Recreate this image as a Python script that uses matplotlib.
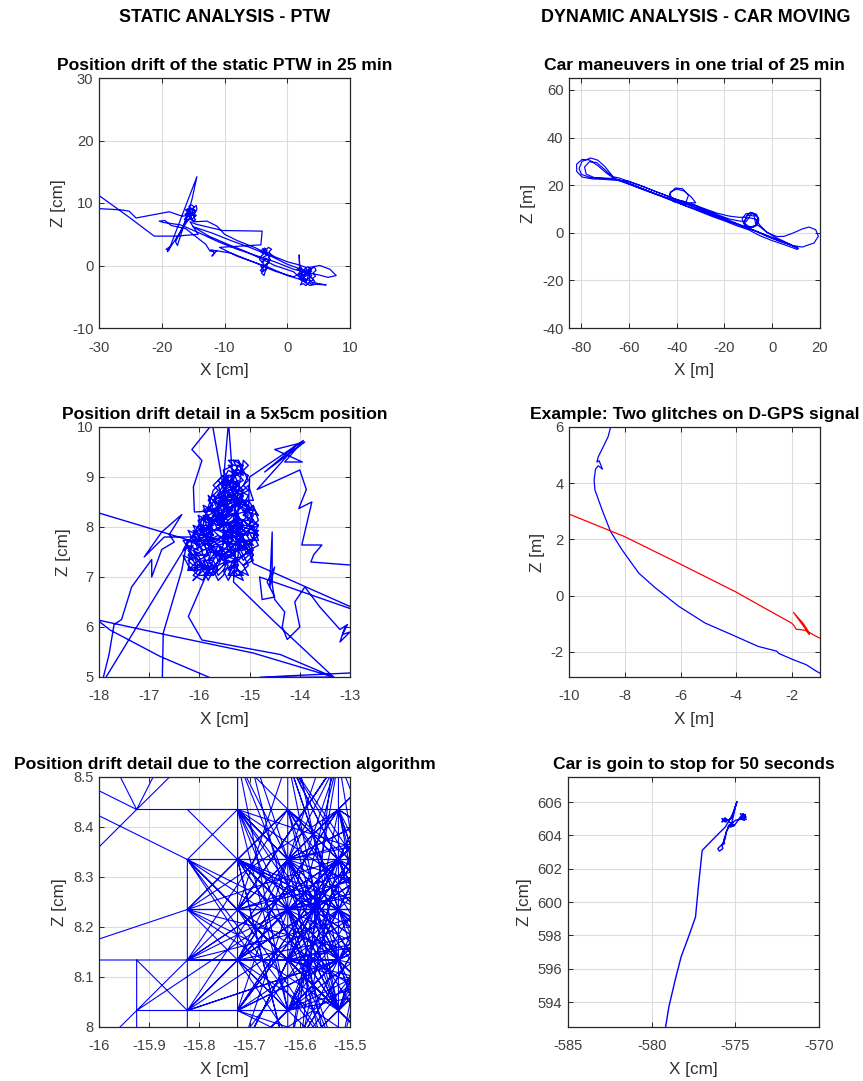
import matplotlib
matplotlib.use("Agg")
import matplotlib.pyplot as plt
from matplotlib.ticker import FuncFormatter

plt.rcParams['font.family'] = ['Liberation Sans', 'DejaVu Sans']
plt.rcParams['axes.unicode_minus'] = False

# ---------------- static PTW: full 25 min drift (cm) ----------------
ptw_cluster_a = [(-15.5, 8.0), (-15.1, 8.4), (-15.6, 8.7), (-15.2, 9.1), (-15.7, 9.4), (-15.3, 9.7),
                 (-14.8, 9.4), (-15.1, 9.0), (-14.6, 8.8), (-14.9, 8.3), (-14.5, 8.0), (-14.9, 7.7),
                 (-14.6, 7.3), (-15.1, 7.1), (-15.4, 7.5), (-15.9, 7.2), (-16.2, 7.6), (-15.8, 7.9),
                 (-16.3, 8.2), (-15.9, 8.5), (-16.2, 8.9), (-15.8, 9.1), (-15.4, 8.8), (-15.7, 8.3),
                 (-15.3, 8.1), (-15.6, 7.7), (-15.2, 7.4), (-14.8, 7.8), (-15.2, 8.2), (-14.7, 8.6),
                 (-15.0, 9.2), (-14.5, 9.6), (-14.4, 9.0), (-14.7, 8.4), (-15.3, 8.5), (-15.6, 8.2),
                 (-16.0, 7.8), (-16.4, 7.4), (-16.0, 7.1), (-15.6, 7.4), (-15.3, 7.8), (-15.8, 8.1),
                 (-15.5, 8.5), (-15.9, 8.8), (-15.5, 9.2), (-15.0, 8.7), (-15.4, 8.3)]
ptw_cluster_b = [(-3.6, 2.8), (-3.2, 2.4), (-3.7, 2.0), (-3.3, 1.6), (-3.9, 1.3), (-3.5, 0.9), (-4.1, 0.6),
                 (-3.7, 0.2), (-4.2, -0.2), (-3.8, -0.6), (-4.1, -1.2), (-3.7, -1.6), (-3.5, -0.9),
                 (-3.2, -0.4), (-3.6, 0.0), (-3.1, 0.4), (-2.7, 0.9), (-3.0, 1.3), (-2.6, 1.7), (-2.9, 2.2),
                 (-2.5, 2.6), (-3.0, 2.9), (-3.4, 2.5), (-3.9, 2.7), (-4.2, 2.2), (-3.8, 1.8), (-4.3, 1.4),
                 (-4.4, 0.9), (-3.9, 0.5), (-3.4, 1.2), (-2.9, 0.6), (-3.3, 0.1), (-3.8, -0.3), (-4.3, -0.8),
                 (-3.9, -1.0), (-3.4, -0.5), (-2.8, 1.2), (-3.3, 2.0), (-3.7, 2.4)]
ptw_cluster_c = [(3.2, -1.0), (2.7, -0.6), (3.3, -0.2), (3.8, -0.6), (4.3, -0.2), (4.6, -0.8), (4.1, -1.2),
                 (4.5, -1.7), (4.0, -2.1), (4.4, -2.6), (3.9, -3.0), (3.4, -2.7), (3.0, -3.2), (2.5, -2.9),
                 (2.1, -3.1), (2.4, -2.5), (1.9, -2.1), (2.3, -1.7), (1.7, -1.4), (2.1, -0.9), (1.6, -0.6),
                 (2.2, -0.3), (2.7, -1.1), (3.1, -1.6), (2.6, -1.9), (3.0, -2.3), (3.5, -2.0), (3.9, -1.6),
                 (3.5, -1.2), (3.9, -0.9), (3.4, -0.6), (2.9, -1.3), (2.5, -1.5), (2.8, -2.5), (3.3, -2.3),
                 (3.7, -2.5), (4.2, -2.3), (3.8, -1.9), (3.3, -1.5), (2.9, -0.9), (2.4, -1.2), (2.0, -1.8),
                 (2.6, -2.2), (3.2, -2.9), (3.6, -3.2)]
ptw_lead_in = [(-33, 9.0), (-30, 9.1), (-26.5, 8.9), (-25.2, 8.7), (-24.1, 7.6), (-18.8, 8.6), (-16.8, 7.9)]
ptw_spike = [(-15.0, 8.5), (-19.1, 2.2), (-18.7, 3.0), (-19.3, 2.6), (-18.9, 2.4), (-14.4, 14.2),
             (-15.2, 10.5), (-17.5, 3.2), (-17.8, 3.8), (-15.8, 8.0), (-15.3, 8.4), (-14.7, 7.9),
             (-15.9, 8.3)]
ptw_arc_to_b = [(-14.8, 7.0), (-12.8, 7.1), (-11.2, 6.3), (-10.0, 5.0), (-8.0, 4.0), (-5.0, 2.8), (-3.8, 2.2)]
ptw_b_to_c = [(-2.0, 1.4), (0.0, 0.6), (1.5, 0.2), (3.0, -0.3)]
ptw_c_loop = [(4.5, -3.0), (6.2, -3.1), (5.0, -2.9), (3.6, -2.6), (3.5, -0.3), (5.2, 0.0), (6.8, -0.6),
              (7.8, -1.6), (6.5, -1.9), (5.0, -1.5), (4.0, -1.3), (2.0, -0.9), (1.9, 1.7), (2.0, -0.7)]
ptw_return = [(3.0, -2.5), (0.0, -1.6), (-3.0, -0.3), (-6.0, 0.8), (-9.0, 2.0), (-12.2, 2.5),
              (-11.6, 2.0), (-12.0, 1.5), (-11.2, 2.4), (-12.3, 2.3), (-13.0, 3.4), (-16.2, 5.9),
              (-18.5, 6.4), (-19.5, 7.2), (-20.4, 7.1), (-19.8, 6.9), (-17.0, 6.5), (-14.0, 5.2),
              (-11.0, 3.8), (-8.0, 2.6), (-5.0, 1.6), (-2.0, 0.6), (1.0, -0.6), (3.5, -1.2),
              (2.4, -2.0), (3.8, -0.5), (2.9, -2.8), (1.0, -1.0), (-2.0, 0.0), (-4.0, 1.0),
              (-6.5, 2.2), (-9.5, 3.4), (-12.5, 4.7), (-15.0, 6.2), (-12.0, 5.2), (-9.0, 4.0),
              (-6.0, 2.9), (-3.0, 1.7), (0.0, 0.2), (3.0, -0.9), (1.0, -1.8), (-2.0, -0.9),
              (-5.0, 0.4), (-8.0, 1.5), (-10.8, 2.9)]
ptw_lead_out = [(-4.2, 3.3), (-4.0, 5.5), (-10.3, 5.6), (-14.5, 6.6), (-15.5, 7.0), (-14.2, 5.0),
                (-17.6, 4.7), (-21.2, 4.7), (-25.3, 7.8), (-30, 11.2), (-33, 13.4)]

# ---------------- static PTW: 5x5 cm detail (cm) ----------------
# positions are reported on a 1 mm lattice
blob_x = [-16.325, -16.225, -16.125, -16.025, -15.925, -15.825, -15.725, -15.625, -15.525, -15.425,
          -15.325, -15.225, -15.125, -15.025, -14.925, -14.825]
blob_z = [6.933, 7.033, 7.133, 7.233, 7.333, 7.433, 7.533, 7.633, 7.733, 7.833, 7.933, 8.033, 8.133,
          8.233, 8.333, 8.433, 8.533, 8.633, 8.733, 8.833, 8.933, 9.033, 9.133, 9.233, 9.333]
blob_walk = [
    (1, 2), (3, 4), (2, 6), (4, 5), (3, 8), (5, 7), (4, 10), (6, 9), (5, 12), (7, 11), (6, 14), (8, 13),
    (7, 16), (9, 15), (8, 18), (10, 17), (9, 20), (11, 19), (10, 22), (12, 21), (11, 24), (12, 22),
    (13, 20), (11, 18), (13, 17), (12, 15), (14, 14), (13, 12), (15, 11), (14, 9), (15, 7), (13, 6),
    (14, 4), (12, 3), (13, 1), (11, 2), (12, 0), (10, 1), (11, 3), (9, 2), (10, 4), (8, 3), (9, 5),
    (7, 4), (8, 6), (6, 5), (7, 7), (5, 6), (6, 8), (4, 7), (5, 9), (3, 8), (4, 11), (2, 9), (3, 6),
    (1, 7), (2, 4), (0, 5), (1, 3), (3, 1), (2, 0), (4, 2), (5, 0), (6, 2), (7, 0), (8, 1),
    (9, 3), (7, 5), (10, 6), (8, 8), (11, 7), (9, 9), (12, 8), (10, 10), (13, 9), (11, 11), (14, 10),
    (12, 12), (10, 13), (13, 14), (11, 15), (9, 14), (12, 16), (10, 17), (8, 16), (11, 19), (9, 18),
    (7, 17), (10, 20), (8, 19), (6, 18), (9, 21), (8, 17), (6, 16), (8, 15), (5, 14), (7, 13), (4, 12),
    (6, 11), (3, 10), (5, 9), (2, 8), (4, 6), (6, 7), (5, 4), (7, 6), (8, 4), (10, 5), (9, 7), (11, 6),
    (12, 4), (13, 5), (11, 8), (14, 7), (12, 10), (15, 9), (13, 11), (14, 13), (12, 14), (15, 13),
    (13, 16), (11, 14), (12, 17), (10, 16), (11, 12), (9, 11), (10, 8), (8, 10), (9, 12), (7, 10),
    (8, 12), (6, 13), (7, 15), (5, 11), (6, 9), (4, 8), (5, 5), (3, 5), (4, 3), (2, 2), (3, 3),
    (5, 2), (4, 4), (6, 3), (7, 1), (8, 2), (9, 0), (10, 2), (11, 1), (12, 2), (13, 3), (12, 5), (14, 6),
    (13, 8), (15, 8), (14, 11), (13, 10), (15, 12), (14, 15), (12, 13), (13, 15), (11, 16), (12, 18),
    (10, 18), (11, 20), (9, 19), (10, 21), (8, 20), (9, 22), (11, 21), (12, 23), (10, 24), (11, 22),
    (13, 21), (12, 19), (13, 18), (11, 17), (9, 16), (10, 15), (8, 14), (9, 13), (7, 12), (8, 11),
    (6, 10), (7, 9), (5, 8), (6, 6), (4, 5), (5, 3), (3, 2), (2, 4), (1, 5), (2, 7), (0, 6), (1, 8),
    (3, 7), (2, 10), (4, 9), (3, 12), (5, 13), (4, 14), (6, 15), (5, 16), (7, 18), (6, 19), (8, 21),
    (7, 20), (9, 17), (7, 14), (9, 10), (7, 8), (10, 7), (8, 5), (11, 4), (9, 6), (12, 6), (10, 9),
    (13, 7), (11, 10), (12, 11), (10, 12), (11, 13), (9, 8),
    (8, 9), (10, 11), (7, 11), (9, 13), (6, 12), (8, 13), (10, 14), (7, 16), (9, 15), (11, 18), (8, 18),
    (10, 19), (12, 20), (9, 23), (11, 23), (10, 20), (12, 18), (13, 19), (14, 16), (12, 16), (14, 12),
    (11, 9), (13, 6), (10, 3), (12, 1), (9, 1), (11, 5), (8, 7), (6, 4), (7, 2), (4, 1), (6, 1), (3, 4),
    (1, 6), (2, 5), (0, 8), (2, 8), (1, 10), (3, 9), (2, 11), (4, 10), (3, 13), (5, 12), (4, 15),
    (6, 14), (5, 17), (7, 15), (6, 17), (8, 16), (7, 19), (9, 20), (8, 22), (10, 23), (9, 24), (11, 24),
    (12, 22), (13, 23), (12, 24),
    (10, 12), (8, 11), (11, 12), (9, 10), (12, 9), (10, 7), (13, 8), (11, 6), (9, 5), (7, 7), (10, 8),
    (8, 6), (6, 8), (9, 9), (7, 10), (10, 10), (8, 12), (11, 14), (9, 12), (7, 13), (10, 13), (8, 15),
    (11, 16), (9, 17), (12, 15), (10, 16), (13, 13), (11, 11), (14, 11), (12, 9), (15, 10), (13, 7),
    (14, 5), (12, 7), (10, 6), (11, 3), (9, 4), (7, 3), (8, 5), (6, 6), (5, 7), (7, 8), (4, 9), (6, 10),
    (3, 11), (5, 10), (4, 13), (6, 12), (8, 14), (7, 11), (9, 14), (6, 13),
    (5, 6), (7, 5), (6, 7), (8, 8), (7, 9), (9, 8), (8, 10), (10, 9), (9, 11), (11, 10), (10, 12),
    (12, 11), (11, 13), (9, 13), (10, 15), (8, 14), (9, 16), (7, 15), (8, 17), (6, 16), (7, 14), (5, 13),
    (6, 11), (4, 11), (5, 9), (3, 9), (4, 7), (2, 6), (3, 5), (1, 4), (2, 3), (4, 3), (3, 1), (5, 1),
    (4, 4), (6, 4), (5, 2), (7, 3), (6, 1), (8, 3), (7, 2), (9, 4), (8, 2), (10, 3), (9, 1), (11, 2),
    (10, 4), (12, 5), (11, 7), (13, 6), (12, 8), (14, 8), (13, 10), (15, 11), (14, 12), (12, 13),
    (13, 14), (11, 15), (12, 16), (10, 17), (11, 18), (9, 19), (10, 20), (8, 19), (9, 21), (11, 21),
    (10, 22), (12, 22), (11, 23),
    (10, 21), (8, 18), (9, 16), (7, 17), (8, 15), (6, 14), (7, 12), (5, 12), (6, 10), (4, 10), (5, 8),
    (3, 7), (4, 6), (2, 5), (3, 3), (1, 2), (3, 2), (2, 1), (4, 0), (5, 3), (6, 2), (7, 4), (6, 6),
    (8, 5), (7, 7), (9, 6), (8, 9), (10, 8), (9, 10), (11, 9), (10, 11), (12, 10), (11, 12), (13, 12),
    (12, 14), (14, 14), (13, 15), (11, 16), (12, 17), (10, 18), (11, 19), (9, 18), (10, 16), (8, 16),
    (9, 14), (7, 13), (8, 11), (6, 12), (7, 10), (5, 10), (6, 8), (4, 8), (5, 5), (3, 4), (4, 2), (6, 3),
    (5, 4), (7, 5), (8, 4), (9, 5), (10, 5), (11, 4), (12, 3), (13, 4), (14, 5), (13, 7), (15, 9),
    (14, 10), (12, 12), (11, 11)]
detail_left_in = [(-19.0, 8.6), (-18.0, 8.28), (-16.15, 7.72)]
detail_left_walk = [(-17.95, 4.85), (-17.8, 5.45), (-17.7, 6.05), (-17.55, 6.15), (-17.35, 6.8),
                    (-16.95, 7.35), (-16.95, 7.0), (-16.75, 7.55), (-16.5, 7.7), (-16.6, 7.85),
                    (-16.35, 8.25), (-16.75, 7.9), (-17.1, 7.4), (-16.7, 7.8), (-16.0, 7.8)]
detail_top_left = [(-16.1, 8.3), (-16.12, 8.8), (-15.95, 9.33), (-16.15, 9.55), (-15.79, 10.0), (-15.75, 10.1)]
detail_top_drop = [(-15.42, 10.1), (-15.52, 8.94)]
detail_bottom_a = [(-15.85, 7.07), (-16.22, 6.21), (-15.95, 5.74), (-14.39, 5.45), (-13.33, 5.0), (-13.2, 4.9)]
detail_bottom_b = [(-18.3, 6.2), (-16.55, 5.82), (-14.93, 5.48), (-13.33, 5.0), (-13.2, 4.9)]
detail_bottom_c = [(-18.3, 6.35), (-17.78, 5.94), (-16.78, 5.41), (-15.82, 5.0), (-15.6, 4.9)]
detail_bottom_d = [(-16.74, 4.9), (-16.72, 5.88), (-16.35, 7.14), (-16.25, 7.7)]
detail_floor = [(-14.8, 4.99), (-14.3, 5.02), (-13.0, 5.08), (-12.8, 5.1)]
detail_fan = [(-15.0, 9.0), (-13.93, 9.73), (-14.3, 9.3), (-13.95, 9.3), (-14.5, 9.55), (-13.9, 9.7),
              (-14.7, 9.1), (-14.05, 9.65), (-14.85, 8.75), (-14.0, 9.14), (-13.87, 8.75), (-14.02, 8.37),
              (-13.76, 8.5), (-13.96, 7.64), (-13.56, 7.64), (-13.72, 7.45), (-13.78, 7.3), (-13.0, 7.24),
              (-12.8, 7.24)]
detail_right = [(-14.93, 7.27), (-13.0, 6.41), (-12.8, 6.3)]
detail_squiggle = [(-14.8, 7.0), (-14.75, 6.55), (-14.5, 6.6), (-14.65, 6.9), (-14.5, 7.2), (-14.6, 6.8),
                   (-14.55, 7.9), (-14.55, 6.85), (-14.5, 6.55), (-14.3, 6.3), (-14.35, 6.0),
                   (-14.25, 5.75), (-14.0, 6.0), (-14.1, 6.5), (-13.9, 6.8), (-13.6, 6.4), (-13.2, 5.95),
                   (-13.05, 6.05), (-13.15, 5.85), (-13.0, 5.9), (-13.2, 5.7), (-13.1, 6.0)]
detail_diag = [(-15.32, 6.9), (-14.5, 6.1), (-13.33, 5.0)]

# ---------------- static PTW: quantised correction detail (cm) ----------------
grid_x = [-16.125, -16.025, -15.925, -15.824, -15.724, -15.624, -15.523, -15.423, -15.323, -15.222, -15.122]
grid_z = [7.733, 7.833, 7.933, 8.033, 8.134, 8.235, 8.335, 8.435, 8.535, 8.635, 8.735]
corr_walk = [(8, 4), (5, 6), (7, 3), (6, 7), (9, 5), (4, 4), (7, 6), (5, 2), (8, 7), (6, 4), (4, 6), (9, 3),
             (6, 5), (5, 8), (7, 4), (4, 2), (8, 6), (6, 3), (5, 5), (9, 7), (7, 2), (4, 5), (6, 8), (8, 3),
             (5, 4), (7, 7), (6, 2), (9, 6), (5, 3), (4, 7), (7, 5), (8, 2), (6, 6), (5, 1), (9, 4), (6, 9),
             (4, 3), (8, 5), (7, 8), (5, 6), (6, 1), (9, 8), (7, 3), (4, 6), (8, 4), (5, 7), (7, 1), (6, 4),
             (10, 6), (5, 5), (3, 6), (6, 3), (8, 8), (4, 4), (7, 6), (6, 2), (9, 5), (5, 4), (8, 1), (6, 7),
             (3, 5), (7, 4), (5, 2), (8, 6), (4, 5), (6, 5), (9, 2), (7, 7), (5, 3), (10, 4), (6, 6), (4, 2),
             (8, 3), (5, 8), (7, 5), (3, 4), (6, 4), (9, 7), (5, 6), (8, 5), (4, 3), (7, 2), (6, 8), (10, 5),
             (5, 4), (3, 6), (7, 6), (6, 3), (8, 7), (5, 2), (9, 4), (4, 6), (7, 3), (6, 5), (8, 2), (5, 7),
             (10, 3), (6, 4), (4, 7), (7, 4), (5, 5), (9, 6), (6, 2), (8, 4), (5, 3), (3, 5), (7, 5), (6, 6),
             (9, 3), (5, 4), (8, 6), (6, 1), (4, 4), (7, 7), (5, 6), (10, 7), (6, 3), (8, 5), (4, 5), (7, 2),
             (6, 7), (9, 5), (5, 3), (3, 3), (6, 4), (5, 9), (5, 0), (6, 9), (6, 1), (4, 9), (4, 6), (3, 7),
             (9, 7), (6, 4), (2, 4), (1, 4), (0, 4), (3, 5), (7, 5), (5, 3), (2, 3), (3, 4), (6, 6), (3, 3),
             (2, 4), (2, 1), (1, 2), (2, 3), (5, 5), (7, 6), (3, 6), (1, 7), (1, 6), (2, 7), (3, 9), (4, 9),
             (3, 8), (2, 7), (1, 9), (0, 8), (2, 7), (4, 7), (3, 6), (3, 1), (6, 5), (8, 3),
             (6, 2), (4, 5), (6, 8), (5, 4), (3, 5), (6, 3), (4, 8), (7, 5), (5, 7), (3, 4), (6, 6), (4, 3),
             (7, 7), (5, 5), (4, 2), (6, 4), (3, 6), (5, 3), (7, 6), (4, 4), (6, 7), (5, 2), (4, 6), (7, 4),
             (5, 8), (6, 5), (3, 3), (5, 6), (7, 3), (4, 7), (6, 2), (5, 4), (7, 8), (4, 5), (6, 3), (5, 7),
             (3, 5), (6, 6), (4, 3), (7, 5), (5, 5), (6, 8), (4, 4), (7, 2), (5, 6), (6, 4), (4, 2), (5, 3),
             (7, 7), (6, 5), (4, 6), (5, 2), (7, 4), (6, 7), (3, 4), (5, 5), (7, 6), (4, 7), (6, 3), (5, 8),
             (4, 5), (7, 3), (6, 6), (5, 4), (3, 6), (6, 2), (4, 3), (7, 7), (5, 6), (6, 4), (4, 8), (5, 3),
             (7, 5), (6, 7), (4, 4), (5, 5), (7, 2), (6, 5), (3, 5), (5, 7), (7, 4), (4, 6), (6, 3), (5, 2),
             (6, 8), (4, 5), (7, 6), (5, 4), (6, 6), (4, 2), (7, 8), (5, 3), (6, 5), (4, 7), (5, 6), (7, 3),
             (6, 4), (3, 3), (5, 5), (6, 2), (4, 4), (7, 7), (5, 4), (6, 6), (4, 6), (6, 3), (4, 9), (4, 1)]

# ---------------- car: 25 min trial (m) ----------------
car_path = [(10.5, -7.0), (5, -5.0), (0, -3.3), (-5, -1.3), (-10, 1.3), (-15, 3.0), (-20, 5.0), (-25, 6.8),
            (-30, 8.8), (-35, 10.8), (-40, 12.8), (-45, 14.8), (-50, 16.6), (-55, 18.5), (-60, 20.4),
            (-65, 22.2), (-69, 24.8), (-73, 28.2), (-76.5, 30.6), (-79.5, 30.8), (-81.8, 28.8), (-81.8, 25.8),
            (-79.5, 23.4), (-75, 22.6), (-70, 22.4), (-65, 22.0), (-60, 21.6), (-55, 19.8), (-50, 17.8),
            (-45, 15.9), (-40, 14.0), (-35, 12.6), (-32, 12.6), (-34, 15.2), (-37, 17.6), (-40, 18.3),
            (-42.5, 17.2), (-43, 14.8), (-41, 13.0), (-37, 12.2), (-33, 11.8), (-28, 10.0), (-23, 8.2),
            (-18, 7.0), (-14, 6.5), (-11, 6.5), (-9, 8.6), (-6.6, 7.8), (-5.6, 5.5), (-6.5, 3.0), (-9, 2.0),
            (-11.6, 3.2), (-12.6, 5.8), (-11, 8.0), (-8.5, 8.3), (-6.2, 6.8), (-6.0, 4.0), (-8.0, 2.4),
            (-10.5, 2.8), (-12.0, 4.6), (-10.5, 6.4), (-7.0, 5.8), (-5.0, 3.0), (-2, 0.0), (2, -1.6),
            (5, -1.5), (9, 0.0), (12.6, 1.6), (15.4, 2.4), (18.2, 1.3), (19.3, -1.5), (17.5, -4.3),
            (12.6, -6.0), (8, -5.3), (3, -3.6), (-2, -1.6), (-7, 0.7), (-12, 2.6), (-17, 4.6), (-22, 6.4),
            (-27, 8.4), (-32, 10.5), (-37, 12.3), (-42, 14.0), (-47, 15.7), (-52, 17.6), (-57, 19.6),
            (-62, 21.5), (-66, 22.6), (-70, 26.5), (-73.5, 29.5), (-76.5, 29.8), (-78.5, 27.6),
            (-77.8, 24.6), (-74, 23.0), (-69, 22.7), (-64, 22.3), (-59, 20.4), (-54, 18.4), (-49, 16.4),
            (-44, 14.6), (-40, 13.6), (-36, 13.0), (-35, 15.8), (-37.5, 18.5), (-40.5, 18.8), (-42.8, 16.5),
            (-41.8, 13.6), (-38, 12.6), (-33, 12.0), (-28, 9.6), (-23, 7.6), (-18, 5.8), (-14, 5.0),
            (-11, 4.5), (-8.5, 8.2), (-6.0, 6.5), (-6.8, 3.2), (-9.5, 2.2), (-11.8, 4.2), (-10.5, 7.5),
            (-7.5, 7.0), (-7.0, 4.0), (-3, 0.8), (1, -1.8), (5, -3.6), (9.5, -5.8), (11, -6.6), (6, -4.4),
            (1, -2.6), (-4, -0.5), (-9, 1.6), (-14, 3.6), (-19, 5.6), (-24, 7.6), (-29, 9.6), (-34, 11.6),
            (-39, 13.6), (-44, 15.5), (-49, 17.4), (-54, 19.4), (-59, 21.2), (-64, 23.0), (-66.5, 23.5),
            (-70, 27.8), (-73, 30.5), (-76, 31.4), (-79.5, 30.0), (-80.8, 27.0), (-79.8, 24.5), (-76, 23.2),
            (-71, 23.0), (-66, 22.8), (-61, 21.0), (-56, 19.0), (-51, 17.2), (-46, 15.2), (-41, 13.2),
            (-36, 11.2), (-31, 9.6), (-26, 7.6), (-21, 5.8), (-16, 4.0), (-11, 2.2), (-6, 0.4), (-1, -1.6),
            (4, -3.6), (8, -5.2), (10.5, -6.3)]

# ---------------- car: D-GPS glitches (m) ----------------
track_x = [-8.48, -8.6, -8.77, -8.95, -9.0, -8.92, -8.8, -8.95, -9.05, -9.1, -9.07, -8.81, -8.51, -8.1,
           -7.5, -6.9, -6.07, -5.12, -4.17, -3.22, -2.55, -2.48, -1.97, -1.5, -1.12, -0.9]
track_z = [6.1, 5.65, 5.3, 4.94, 4.75, 4.8, 4.5, 4.62, 4.5, 4.11, 3.76, 3.04, 2.28, 1.63,
           0.8, 0.27, -0.38, -0.98, -1.39, -1.81, -1.98, -2.06, -2.28, -2.46, -2.7, -2.82]
glitch_x = [-10.3, -10.0, -8.01, -6.07, -4.04, -2.98, -2.02, -1.95, -1.85, -1.65, -1.5, -1.38, -1.95,
            -1.6, -1.4, -1.2, -1.0, -0.9]
glitch_z = [3.05, 2.9, 2.1, 1.15, 0.14, -0.45, -0.98, -1.05, -1.2, -1.22, -1.25, -1.38, -0.6,
            -1.0, -1.3, -1.42, -1.52, -1.57]

# ---------------- car: 50 s stop (cm) ----------------
stop_path = [(-579.3, 592.0), (-579.17, 592.48), (-578.97, 593.72), (-578.6, 595.3), (-578.24, 596.71),
             (-577.8, 597.9), (-577.38, 599.1), (-577.2, 601.0), (-576.98, 603.1), (-576.2, 603.9),
             (-575.6, 604.5), (-575.36, 604.9), (-575.1, 605.4), (-574.9, 606.03), (-575.25, 605.0),
             (-575.6, 604.85), (-575.8, 605.0), (-575.55, 604.8), (-575.75, 604.9), (-575.6, 605.05),
             (-575.8, 604.8), (-575.55, 605.0), (-575.3, 604.75), (-575.1, 604.55), (-575.4, 604.6),
             (-575.15, 604.75), (-575.45, 604.5), (-575.1, 604.65), (-575.3, 604.5), (-575.05, 604.6),
             (-574.7, 605.1), (-574.4, 605.25), (-574.6, 604.95), (-574.35, 605.1), (-574.7, 605.3),
             (-574.45, 604.9), (-574.75, 605.0), (-574.4, 605.2), (-574.55, 605.3), (-574.35, 604.95),
             (-574.65, 605.15), (-574.5, 605.0), (-575.0, 604.9), (-575.35, 604.6), (-575.5, 604.3),
             (-575.6, 604.0), (-575.7, 603.7), (-575.65, 603.5), (-575.85, 603.4), (-576.05, 603.2),
             (-575.95, 603.05), (-575.75, 603.2), (-575.8, 603.45), (-575.6, 603.8), (-575.55, 604.2),
             (-575.4, 604.5), (-575.2, 604.8), (-574.95, 605.9)]

BLUE = (0, 0, 1)
RED = (1, 0, 0)
INK = '#262626'

fig = plt.figure(figsize=(8.63, 10.81), dpi=100)
plain = FuncFormatter(lambda v, p: f'{v:g}')


def frame(rect, xlim, ylim, xticks, yticks, xlabel, ylabel, title):
    ax = fig.add_axes(rect)
    ax.set_xlim(*xlim)
    ax.set_ylim(*ylim)
    ax.set_xticks(xticks)
    ax.set_yticks(yticks)
    ax.xaxis.set_major_formatter(plain)
    ax.yaxis.set_major_formatter(plain)
    ax.grid(True, color='#dcdcdc', linewidth=0.8)
    ax.set_axisbelow(True)
    ax.tick_params(direction='in', top=True, right=True, length=3.5, width=0.7,
                   colors=INK, labelcolor='#404040', labelsize=10.6)
    ax.tick_params(axis='x', pad=9)
    ax.tick_params(axis='y', pad=4)
    for sp in ax.spines.values():
        sp.set_color(INK)
        sp.set_linewidth(0.9)
    ax.set_xlabel(xlabel, fontsize=12.3, color='#303030', labelpad=6)
    ax.set_ylabel(ylabel, fontsize=12.3, color='#303030', labelpad=4)
    ax.set_title(title, fontsize=12.6, fontweight='bold', color='black', pad=6)
    return ax


def unzip(points):
    return [p[0] for p in points], [p[1] for p in points]


W = 251 / 863
H = 250 / 1081
LX, RX = 99 / 863, 569 / 863
ROWS = [1 - 328 / 1081, 1 - 677 / 1081, 1 - 1027 / 1081]

# static drift over 25 min
ax1 = frame([LX, ROWS[0], W, H], (-30, 10), (-10, 30), [-30, -20, -10, 0, 10], [-10, 0, 10, 20, 30],
            'X [cm]', 'Z [cm]', 'Position drift of the static PTW in 25 min')
ptw_path = (ptw_lead_in + ptw_cluster_a + ptw_spike + ptw_arc_to_b + ptw_cluster_b + ptw_b_to_c
            + ptw_cluster_c + ptw_c_loop + ptw_return + ptw_lead_out)
px, pz = unzip(ptw_path)
ax1.plot(px, pz, color=BLUE, linewidth=0.9)

# 5x5 cm detail
ax3 = frame([LX, ROWS[1], W, H], (-18, -13), (5, 10), [-18, -17, -16, -15, -14, -13], [5, 6, 7, 8, 9, 10],
            'X [cm]', 'Z [cm]', 'Position drift detail in a 5x5cm position')
blob = [(blob_x[i], blob_z[j]) for i, j in blob_walk]
detail_path = (detail_left_in + blob[:90] + detail_left_walk + blob[90:180] + detail_top_left
               + blob[180:250] + detail_top_drop + blob[250:310] + detail_bottom_a
               + detail_bottom_b[::-1] + detail_bottom_c + detail_bottom_d + blob[310:390] + detail_fan
               + detail_floor[::-1] + detail_diag[::-1] + blob[390:] + detail_right + detail_squiggle)
dx, dz = unzip(detail_path)
ax3.plot(dx, dz, color=BLUE, linewidth=1.0)

# quantised positions from the correction algorithm
ax5 = frame([LX, ROWS[2], W, H], (-16, -15.5), (8, 8.5), [-16, -15.9, -15.8, -15.7, -15.6, -15.5],
            [8, 8.1, 8.2, 8.3, 8.4, 8.5], 'X [cm]', 'Z [cm]',
            'Position drift detail due to the correction algorithm')
cx = [grid_x[i] for i, j in corr_walk]
cz = [grid_z[j] for i, j in corr_walk]
ax5.plot(cx, cz, color=BLUE, linewidth=0.8)

# car maneuvers
ax2 = frame([RX, ROWS[0], W, H], (-85, 20), (-40, 65), [-80, -60, -40, -20, 0, 20], [-40, -20, 0, 20, 40, 60],
            'X [m]', 'Z [m]', 'Car maneuvers in one trial of 25 min')
gx, gz = unzip(car_path)
ax2.plot(gx, gz, color=BLUE, linewidth=0.85)

# D-GPS glitches
ax4 = frame([RX, ROWS[1], W, H], (-10, -1), (-2.9, 6), [-10, -8, -6, -4, -2], [-2, 0, 2, 4, 6],
            'X [m]', 'Z [m]', 'Example: Two glitches on D-GPS signal')
ax4.plot(track_x, track_z, color=BLUE, linewidth=0.9)
ax4.plot(glitch_x, glitch_z, color=RED, linewidth=0.9)

# car stop
ax6 = frame([568 / 863, ROWS[2], W, H], (-585, -570), (592.5, 607.5), [-585, -580, -575, -570],
            [594, 596, 598, 600, 602, 604, 606], 'X [cm]', 'Z [cm]', 'Car is goin to stop for 50 seconds')
sx, sz = unzip(stop_path)
ax6.plot(sx, sz, color=BLUE, linewidth=1.0)

fig.text(225 / 863, 1 - 17 / 1081, 'STATIC ANALYSIS - PTW', ha='center', va='center',
         fontsize=12.9, fontweight='bold')
fig.text(696 / 863, 1 - 17 / 1081, 'DYNAMIC ANALYSIS - CAR MOVING', ha='center', va='center',
         fontsize=12.9, fontweight='bold')

fig.savefig('out.png', dpi=100)
